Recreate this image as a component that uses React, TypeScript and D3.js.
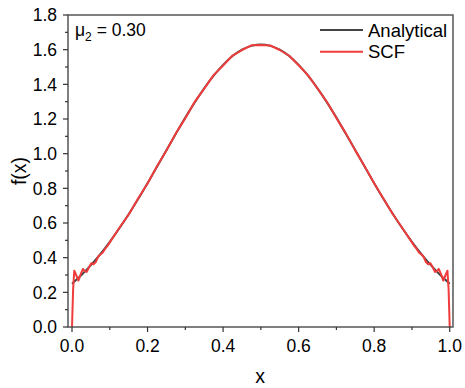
import React from "react";
import * as d3 from "d3";

const anaX = [0, 0.025, 0.05, 0.075, 0.1, 0.125, 0.15, 0.175, 0.2, 0.225, 0.25, 0.275, 0.3, 0.325, 0.35, 0.375, 0.4, 0.425, 0.45, 0.475, 0.5,
  0.525, 0.55, 0.575, 0.6, 0.625, 0.65, 0.675, 0.7, 0.725, 0.75, 0.775, 0.8, 0.825, 0.85, 0.875, 0.9, 0.925, 0.95, 0.975, 1.0];
const anaY = [0.25, 0.3, 0.357, 0.42, 0.491, 0.568, 0.65, 0.738, 0.83, 0.924, 1.02, 1.115, 1.208, 1.296, 1.377, 1.45, 1.512, 1.563, 1.6, 1.622, 1.63,
  1.622, 1.6, 1.563, 1.512, 1.45, 1.377, 1.296, 1.208, 1.115, 1.02, 0.924, 0.83, 0.738, 0.65, 0.568, 0.491, 0.42, 0.357, 0.3, 0.25];

const scfX = [0, 0.003, 0.006, 0.011, 0.017, 0.023, 0.029, 0.034, 0.039, 0.045, 0.051, 0.057, 0.063, 0.069, 0.075, 0.081, 0.088, 0.094, 0.1,
  0.125, 0.15, 0.175, 0.2, 0.225, 0.25, 0.275, 0.3, 0.325, 0.35, 0.375, 0.4, 0.425, 0.45, 0.475, 0.5,
  0.525, 0.55, 0.575, 0.6, 0.625, 0.65, 0.675, 0.7, 0.725, 0.75, 0.775, 0.8, 0.825, 0.85, 0.875, 0.9,
  0.906, 0.912, 0.919, 0.925, 0.931, 0.937, 0.943, 0.949, 0.955, 0.961, 0.966, 0.971, 0.977, 0.983, 0.989, 0.994, 0.997, 1.0];
const scfY = [0, 0.22, 0.325, 0.3, 0.268, 0.305, 0.335, 0.322, 0.318, 0.345, 0.368, 0.362, 0.375, 0.405, 0.418, 0.428, 0.452, 0.468, 0.488,
  0.571, 0.648, 0.741, 0.828, 0.927, 1.018, 1.118, 1.205, 1.299, 1.375, 1.453, 1.509, 1.566, 1.598, 1.625, 1.627,
  1.624, 1.598, 1.565, 1.51, 1.452, 1.376, 1.298, 1.206, 1.117, 1.019, 0.926, 0.829, 0.739, 0.649, 0.57, 0.488,
  0.468, 0.452, 0.428, 0.418, 0.405, 0.375, 0.362, 0.368, 0.345, 0.318, 0.322, 0.335, 0.305, 0.268, 0.3, 0.325, 0.22, 0];

const xTicks = [0, 0.2, 0.4, 0.6, 0.8, 1.0];
const yTicks = [0, 0.2, 0.4, 0.6, 0.8, 1.0, 1.2, 1.4, 1.6, 1.8];
const xMinor = [0.1, 0.3, 0.5, 0.7, 0.9];
const yMinor = [0.1, 0.3, 0.5, 0.7, 0.9, 1.1, 1.3, 1.5, 1.7];
const seriesNames = ["Analytical", "SCF"];
const annotation = { base: "μ", sub: "2", rest: " = 0.30" };

export default function App() {
  const W = 465, H = 388;
  const left = 68, right = 453, top = 15, bottom = 327;
  const x = d3.scaleLinear().domain([-0.0106, 1.0087]).range([left, right]);
  const y = d3.scaleLinear().domain([0, 1.8]).range([bottom, top]);
  const font = "'Liberation Sans', Arial, sans-serif";

  const anaLine = d3.line<number>().x((_, i) => x(anaX[i])).y((d) => y(d)).curve(d3.curveMonotoneX);
  const scfLine = d3.line<number>().x((_, i) => x(scfX[i])).y((d) => y(d));

  const axisColor = "#555";
  return (
    <svg width={W} height={H} style={{ position: "absolute", left: 0, top: 0 }} fontFamily={font}>
      <rect width={W} height={H} fill="#fff" />
      <path d={anaLine(anaY) || ""} fill="none" stroke="#444" strokeWidth={2} />
      <path d={scfLine(scfY) || ""} fill="none" stroke="#f03c3c" strokeWidth={2} strokeLinejoin="round" />
      {/* frame */}
      <rect x={left} y={top} width={right - left} height={bottom - top} fill="none" stroke={axisColor} strokeWidth={1.5} />
      {/* x ticks */}
      {xTicks.map((t) => (
        <g key={"xt" + t}>
          <line x1={x(t)} x2={x(t)} y1={bottom} y2={bottom + 5} stroke="#333" strokeWidth={1.2} />
          <text x={x(t)} y={352} fontSize={17.5} textAnchor="middle" fill="#000">{t.toFixed(1)}</text>
        </g>
      ))}
      {xMinor.map((t) => (
        <line key={"xm" + t} x1={x(t)} x2={x(t)} y1={bottom} y2={bottom + 3} stroke="#333" strokeWidth={1.2} />
      ))}
      {yTicks.map((t) => (
        <g key={"yt" + t}>
          <line x1={left - 5} x2={left} y1={y(t)} y2={y(t)} stroke="#333" strokeWidth={1.2} />
          <text x={57} y={y(t) + 6.3} fontSize={17.5} textAnchor="end" fill="#000">{t.toFixed(1)}</text>
        </g>
      ))}
      {yMinor.map((t) => (
        <line key={"ym" + t} x1={left - 3} x2={left} y1={y(t)} y2={y(t)} stroke="#333" strokeWidth={1.2} />
      ))}
      <text x={260} y={383} fontSize={19.5} textAnchor="middle">x</text>
      <text transform={`translate(26,171) rotate(-90)`} fontSize={19.5} textAnchor="middle">f(x)</text>
      {/* annotation */}
      <text x={75} y={36} fontSize={17.5}>
        {annotation.base}
        <tspan fontSize={12} dy={5}>{annotation.sub}</tspan>
        <tspan dy={-5}>{annotation.rest}</tspan>
      </text>
      {/* legend */}
      {seriesNames.map((n, i) => (
        <g key={n}>
          <line x1={320} x2={363} y1={30 + i * 21.7} y2={30 + i * 21.7} stroke={i === 0 ? "#444" : "#f03c3c"} strokeWidth={2} />
          <text x={368} y={36.5 + i * 21.7} fontSize={18.5}>{n}</text>
        </g>
      ))}
    </svg>
  );
}
